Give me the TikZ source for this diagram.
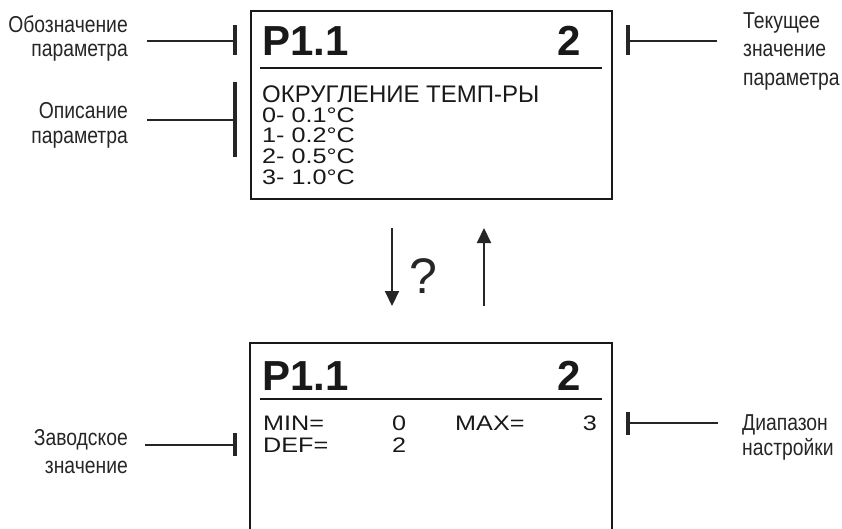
\documentclass[tikz,border=0pt]{standalone}
\usepackage{fontspec}
\setmainfont{Liberation Sans}
\newfontfamily\lcd{Liberation Sans}[FakeStretch=1.2]
\newfontfamily\narrowf{Liberation Sans}[FakeStretch=0.84]
\usetikzlibrary{arrows.meta}
\begin{document}
\begin{tikzpicture}[x=1pt,y=-1pt,
  boxline/.style={line width=1.5pt, draw=black!90},
  sepline/.style={line width=2.5pt, draw=black!90},
  lead/.style={line width=2pt, draw=black!85},
  tick/.style={line width=3.2pt, draw=black!85},
  hdr/.style={inner sep=0pt, font=\fontsize{42}{42}\selectfont\bfseries, text=black!90},
  desc/.style={inner sep=0pt, font=\fontsize{24}{24}\selectfont, text=black!90},
  lcdtxt/.style={inner sep=0pt, font=\fontsize{21}{21}\selectfont\lcd, text=black!90},
  lbl/.style={inner sep=0pt, text=black!85},
  arr/.style={line width=2pt, draw=black!85, -{Triangle[width=14pt,length=15pt]}}]
\useasboundingbox (0,0) rectangle (842,528);

% top display
\node[boxline, draw, minimum width=361pt, minimum height=188pt, anchor=north west, inner sep=0pt] (topbox) at (250,10) {};
\draw[sepline] (260,68) -- (602,68);
\node[hdr, anchor=base west] (tp) at (262,55) {P1.1};
\node[hdr, anchor=base east] (tv) at (581,55) {2};
\node[desc, anchor=base west] (td) at (262,102) {ОКРУГЛЕНИЕ ТЕМП-РЫ};
\node[lcdtxt, anchor=base west] (o0) at (262,122) {0- 0.1°C};
\node[lcdtxt, anchor=base west] (o1) at (262,142) {1- 0.2°C};
\node[lcdtxt, anchor=base west] (o2) at (262,163) {2- 0.5°C};
\node[lcdtxt, anchor=base west] (o3) at (262,184) {3- 1.0°C};

% bottom display
\draw[boxline] (250,530) |- (612,343) -- (612,530);
\draw[sepline] (260,399) -- (602,399);
\node[hdr, anchor=base west] (bp) at (262,390) {P1.1};
\node[hdr, anchor=base east] (bv) at (581,390) {2};
\node[lcdtxt, anchor=base west] (mn) at (263,430) {MIN=};
\node[lcdtxt, anchor=base west] (mnv) at (392,430) {0};
\node[lcdtxt, anchor=base west] (mx) at (455,430) {MAX=};
\node[lcdtxt, anchor=base east] (mxv) at (597,430) {3};
\node[lcdtxt, anchor=base west] (df) at (263,452) {DEF=};
\node[lcdtxt, anchor=base west] (dfv) at (392,452) {2};

% labels (base anchor = baseline of last line)
\node[lbl, align=right, anchor=base east, font=\fontsize{23}{24}\selectfont\narrowf] (l1) at (128,56) {Обозначение\\параметра};
\node[lbl, align=right, anchor=base east, font=\fontsize{23}{25}\selectfont\narrowf] (l2) at (128,143) {Описание\\параметра};
\node[lbl, align=right, anchor=base east, font=\fontsize{23}{28}\selectfont\narrowf] (l3) at (128,473) {Заводское\\значение};
\node[lbl, align=left, anchor=base west, font=\fontsize{23}{28.5}\selectfont\narrowf] (r1) at (743,85) {Текущее\\значение\\параметра};
\node[lbl, align=left, anchor=base west, font=\fontsize{23}{25}\selectfont\narrowf] (r2) at (742,455) {Диапазон\\настройки};

% leader lines and ticks
\coordinate (l1s) at (147,41);  \coordinate (l1t) at (235,41);
\coordinate (l2s) at (147,120); \coordinate (l2t) at (235,120);
\coordinate (l3s) at (145,445); \coordinate (l3t) at (235,445);
\coordinate (r1s) at (717,41);  \coordinate (r1t) at (628,41);
\coordinate (r2s) at (718,423); \coordinate (r2t) at (628,423);
\draw[lead] (l1s) -- (l1t);
\draw[lead] (l2s) -- (l2t);
\draw[lead] (l3s) -- (l3t);
\draw[lead] (r1s) -- (r1t);
\draw[lead] (r2s) -- (r2t);
\draw[tick] (235,25) -- (235,55);
\draw[tick] (235,82) -- (235,157);
\draw[tick] (235,433) -- (235,456);
\draw[tick] (628,25) -- (628,55);
\draw[tick] (628,412) -- (628,435);

% arrows
\coordinate (da) at (392,228); \coordinate (db) at (392,306);
\coordinate (ua) at (484,306); \coordinate (ub) at (484,228);
\draw[arr] (da) -- (db);
\draw[arr] (ua) -- (ub);
\node[inner sep=0pt, font=\fontsize{50}{50}\selectfont, text=black!85] (q) at (423,276) {?};
\end{tikzpicture}
\end{document}
